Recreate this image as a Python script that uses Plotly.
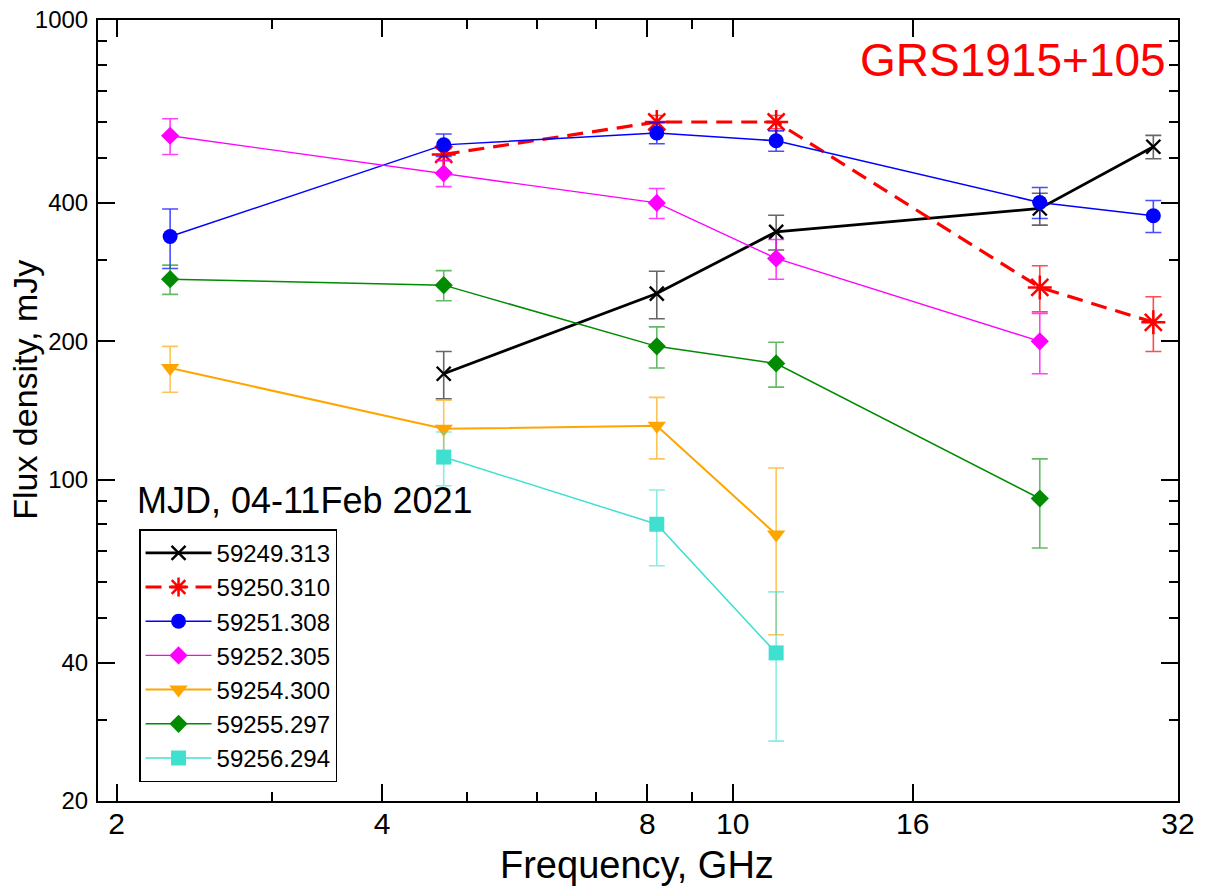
import plotly.graph_objects as go

# ---------------- data ----------------
labels = ["59249.313", "59250.310", "59251.308", "59252.305",
          "59254.300", "59255.297", "59256.294"]

f_59249 = [4.7, 8.2, 11.2, 22.3, 30.0]
s_59249 = [170, 254, 346, 389, 530]
e_59249 = [20, 30, 30, 31, 31]

f_59250 = [4.7, 8.2, 11.2, 22.3, 30.0]
s_59250 = [510, 600, 600, 262, 220]
e_59250 = [15, 20, 20, 30, 30]

f_59251 = [2.3, 4.7, 8.2, 11.2, 22.3, 30.0]
s_59251 = [338, 535, 568, 546, 401, 375]
e_59251 = [50, 30, 30, 28, 31, 30]

f_59252 = [2.3, 4.7, 8.2, 11.2, 22.3]
s_59252 = [560, 464, 400, 303, 200]
e_59252 = [50, 30, 30, 30, 30]

f_59254 = [2.3, 4.7, 8.2, 11.2]
s_59254 = [175, 129, 131, 76]
e_59254 = [20, 20, 20, 30]

f_59255 = [2.3, 4.7, 8.2, 11.2, 22.3]
s_59255 = [273, 265, 195, 179, 91]
e_59255 = [20, 20, 20, 20, 20]

f_59256 = [4.7, 8.2, 11.2]
s_59256 = [112, 80, 42]
e_59256 = [15, 15, 15]

x_major = [2, 4, 8, 10, 16, 32]
x_minor = [3, 5, 6, 7, 9]
y_major = [20, 40, 100, 200, 400, 1000]
y_minor = [30, 50, 60, 70, 80, 90, 300, 500, 600, 700, 800, 900]

# ---------------- styles ----------------
FONT = "Liberation Sans, Arial, Helvetica, sans-serif"

series = [
    dict(x=f_59249, y=s_59249, e=e_59249, color="#000000", err="rgba(0,0,0,0.6)",
         symbol="x-thin-open", size=14, mlw=2.4, lw=2.8, dash="solid"),
    dict(x=f_59250, y=s_59250, e=e_59250, color="#ff0000", err="rgba(255,0,0,0.7)",
         symbol="asterisk-open", size=20, mlw=2.5, lw=3.2, dash="16px,9px"),
    dict(x=f_59251, y=s_59251, e=e_59251, color="#0000ff", err="rgba(0,0,255,0.7)",
         symbol="circle", size=15, mlw=0, lw=1.5, dash="solid"),
    dict(x=f_59252, y=s_59252, e=e_59252, color="#ff00ff", err="rgba(255,0,255,0.75)",
         symbol="diamond", size=14, mlw=0, lw=1.4, dash="solid"),
    dict(x=f_59254, y=s_59254, e=e_59254, color="#ffa500", err="rgba(255,165,0,0.65)",
         symbol="triangle-down", size=16, mlw=0, lw=2.0, dash="solid"),
    dict(x=f_59255, y=s_59255, e=e_59255, color="#008b00", err="rgba(0,139,0,0.6)",
         symbol="diamond", size=14, mlw=0, lw=1.5, dash="solid"),
    dict(x=f_59256, y=s_59256, e=e_59256, color="#40e0d0", err="rgba(64,224,208,0.6)",
         symbol="square", size=15, mlw=0, lw=1.5, dash="solid"),
]

fig = go.Figure()
for lab, s in zip(labels, series):
    fig.add_trace(go.Scatter(
        x=s["x"], y=s["y"], name=lab, mode="lines+markers",
        line=dict(color=s["color"], width=s["lw"], dash=s["dash"]),
        marker=dict(symbol=s["symbol"], size=s["size"], color=s["color"],
                    line=dict(color=s["color"], width=s["mlw"])),
        error_y=dict(type="data", array=s["e"], symmetric=True, visible=True,
                     color=s["err"], thickness=1.6, width=8),
    ))

axis_common = dict(
    type="log", showgrid=False, zeroline=False, automargin=False,
    showline=True, linecolor="black", linewidth=2, mirror="ticks",
    ticks="inside", ticklen=17, tickwidth=1.5, tickcolor="black",
)

fig.update_layout(
    width=1218, height=886,
    margin=dict(l=98, r=40, t=20, b=85, autoexpand=False),
    paper_bgcolor="white", plot_bgcolor="white",
    font=dict(family=FONT, color="black"),
    xaxis=dict(
        **axis_common,
        range=[0.2799, 1.5051],
        tickmode="array", tickvals=x_major, ticktext=[str(v) for v in x_major],
        tickfont=dict(size=30, family=FONT, color="black"),
        ticklabelstandoff=-5,
        minor=dict(tickvals=x_minor, ticks="inside", ticklen=9, tickwidth=1.5,
                   tickcolor="black"),
    ),
    yaxis=dict(
        **axis_common,
        range=[1.30103, 3.0],
        tickmode="array", tickvals=y_major, ticktext=[str(v) for v in y_major],
        tickfont=dict(size=24, family=FONT, color="black"),
        ticklabelstandoff=3,
        minor=dict(tickvals=y_minor, ticks="inside", ticklen=9, tickwidth=1.5,
                   tickcolor="black"),
    ),
    showlegend=True,
    legend=dict(
        x=0.038, y=0.348, xanchor="left", yanchor="top",
        bgcolor="white", bordercolor="black", borderwidth=1.5,
        font=dict(size=24, family=FONT, color="black"),
        itemwidth=66, tracegroupgap=0,
    ),
    annotations=[
        dict(text="GRS1915+105", xref="paper", yref="paper", x=0.991, y=0.949,
             xanchor="right", yanchor="middle", showarrow=False,
             font=dict(size=46, family=FONT, color="#ff0000")),
        dict(text="MJD, 04-11Feb 2021", xref="paper", yref="paper", x=0.034, y=0.385,
             xanchor="left", yanchor="middle", showarrow=False,
             font=dict(size=36, family=FONT, color="black")),
        dict(text="Frequency, GHz", xref="paper", yref="paper", x=0.499, y=-0.082,
             xanchor="center", yanchor="middle", showarrow=False,
             font=dict(size=38, family=FONT, color="black")),
        dict(text="Flux density, mJy", xref="paper", yref="paper", x=-0.067, y=0.526,
             xanchor="center", yanchor="middle", showarrow=False, textangle=-90,
             font=dict(size=34, family=FONT, color="black")),
    ],
)

fig.write_html("out.html")
